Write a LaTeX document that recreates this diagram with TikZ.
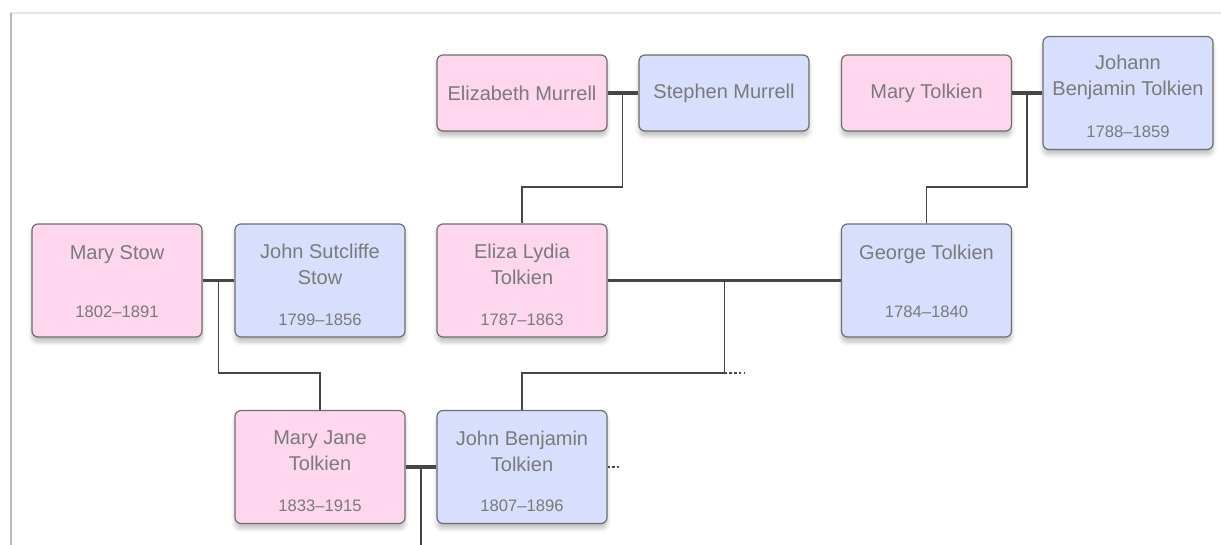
\documentclass[tikz,border=0pt]{standalone}
\usepackage{fontspec}
\setmainfont{Liberation Sans}
\usepackage{xcolor}
\usepackage{tikz}
\usetikzlibrary{shadows.blur}

\definecolor{pinkfill}{RGB}{254,215,238}
\definecolor{bluefill}{RGB}{216,223,253}
\definecolor{boxline}{RGB}{110,110,110}
\definecolor{textgray}{RGB}{122,122,122}
\definecolor{linkgray}{RGB}{70,70,70}

\tikzset{
  person/.style={rectangle, rounded corners=3pt, draw=boxline, line width=0.6pt,
    minimum width=85pt, inner sep=0pt,
    blur shadow={shadow xshift=0pt, shadow yshift=-2.5pt, shadow blur steps=6, shadow opacity=25}},
  small/.style={minimum height=38pt},
  big/.style={minimum height=56.5pt},
  her/.style={fill=pinkfill},
  him/.style={fill=bluefill},
  nametext/.style={text=textgray, align=center, font=\fontsize{10}{13}\selectfont},
  yeartext/.style={text=textgray, font=\fontsize{8.3}{10}\selectfont},
  couple/.style={draw=linkgray, line width=1.8pt},
  child/.style={draw=linkgray, line width=0.75pt},
  more/.style={draw=linkgray, line width=0.8pt, dash pattern=on 1.2pt off 1.2pt}
}

\begin{document}
\begin{tikzpicture}[x=0.5pt, y=-0.5pt]
            \useasboundingbox (0, 0) rectangle (1221, 545);
            \draw [gray!20, line width=0.6pt] (11, 13) -- (1221, 13);
            \draw [gray!55, line width=1.1pt] (11, 13) -- (11, 545);

            \node (em) at (522, 93) [person, small, her] {};
            \node (sm) at (724, 93) [person, small, him] {};
            \node (mt) at (926.5, 93) [person, small, her] {};
            \node (jbt) at (1128, 93) [person, big, him] {};
            \node (ms) at (117, 280.5) [person, big, her] {};
            \node (jss) at (320, 280.5) [person, big, him] {};
            \node (elt) at (522, 280.5) [person, big, her] {};
            \node (gt) at (926.5, 280.5) [person, big, him] {};
            \node (mjt) at (320, 467) [person, big, her] {};
            \node (jbn) at (522, 467) [person, big, him] {};

            \node (emN) at (em) [nametext] {Elizabeth Murrell};
            \node (smN) at (sm) [nametext] {Stephen Murrell};
            \node (mtN) at (mt) [nametext] {Mary Tolkien};
            \node (jbtN) at ([yshift=-20.5pt]jbt.north) [nametext] {Johann\\Benjamin Tolkien};
            \node (jbtY) at ([yshift=-48pt]jbt.north) [yeartext] {1788–1859};
            \node (msN) at ([yshift=-15.5pt]ms.north) [nametext] {Mary Stow};
            \node (msY) at ([yshift=-44pt]ms.north) [yeartext] {1802–1891};
            \node (jssN) at ([yshift=-20.5pt]jss.north) [nametext] {John Sutcliffe\\Stow};
            \node (jssY) at ([yshift=-48pt]jss.north) [yeartext] {1799–1856};
            \node (eltN) at ([yshift=-20.5pt]elt.north) [nametext] {Eliza Lydia\\Tolkien};
            \node (eltY) at ([yshift=-48pt]elt.north) [yeartext] {1787–1863};
            \node (gtN) at ([yshift=-15.5pt]gt.north) [nametext] {George Tolkien};
            \node (gtY) at ([yshift=-44pt]gt.north) [yeartext] {1784–1840};
            \node (mjtN) at ([yshift=-20.5pt]mjt.north) [nametext] {Mary Jane\\Tolkien};
            \node (mjtY) at ([yshift=-48pt]mjt.north) [yeartext] {1833–1915};
            \node (jbnN) at ([yshift=-20.5pt]jbn.north) [nametext] {John Benjamin\\Tolkien};
            \node (jbnY) at ([yshift=-48pt]jbn.north) [yeartext] {1807–1896};

            \coordinate (emsm) at (622.5, 93);
            \coordinate (mtjbt) at (1027, 93);
            \coordinate (msjss) at (218.5, 280.5);
            \coordinate (eltgt) at (724.5, 280.5);
            \coordinate (eltgtB) at (724.5, 373);
            \coordinate (mjtjbn) at (421, 467);
            \coordinate (mjtjbnB) at (421, 545);

            \draw [couple] (em) edge (sm);
            \draw [couple] (mt) edge (jbt);
            \draw [couple] (ms) edge (jss);
            \draw [couple] (elt) edge (gt);
            \draw [couple] (mjt) edge (jbn);

            \draw [child] (emsm) -- ++(0, 94) -| (elt.north);
            \draw [child] (mtjbt) -- ++(0, 94) -| (gt.north);
            \draw [child] (msjss) -- ++(0, 92.5) -| (mjt.north);
            \draw [child] (eltgt) -- (eltgtB) -| (jbn.north);
            \draw [child] (mjtjbn) -- (mjtjbnB);

            \draw [more] (eltgtB) -- ++(20, 0);
            \draw [more] (jbn.east) -- ++(11, 0);
        \end{tikzpicture}
\end{document}
